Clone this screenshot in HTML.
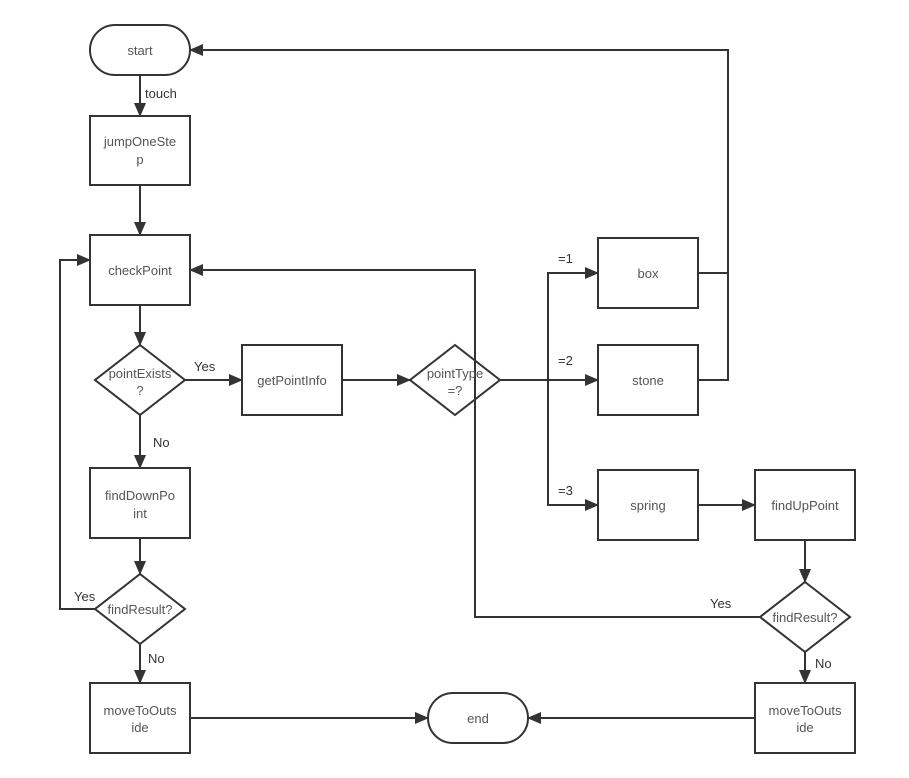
<!DOCTYPE html>
<html><head><style>body{margin:0;background:#fff}svg{display:block}</style></head><body>
<svg width="909" height="778" viewBox="0 0 909 778" xmlns="http://www.w3.org/2000/svg" font-family="Liberation Sans, sans-serif" font-size="13">
<defs><marker id="a" markerWidth="14" markerHeight="12" refX="13" refY="6" orient="auto" markerUnits="userSpaceOnUse"><path d="M0,0 L14,6 L0,12 Z" fill="#333"/></marker></defs>
<g fill="none" stroke="#333" stroke-width="2">
<rect x="90" y="25" width="100" height="50" rx="25"/>
<rect x="90" y="116" width="100" height="69"/>
<rect x="90" y="235" width="100" height="70"/>
<path d="M140,345 L185,380 L140,415 L95,380 Z"/>
<rect x="242" y="345" width="100" height="70"/>
<path d="M455,345 L500,380 L455,415 L410,380 Z"/>
<rect x="598" y="238" width="100" height="70"/>
<rect x="598" y="345" width="100" height="70"/>
<rect x="598" y="470" width="100" height="70"/>
<rect x="755" y="470" width="100" height="70"/>
<path d="M805,582 L850,617 L805,652 L760,617 Z"/>
<rect x="755" y="683" width="100" height="70"/>
<rect x="428" y="693" width="100" height="50" rx="25"/>
<rect x="90" y="468" width="100" height="70"/>
<path d="M140,574 L185,609 L140,644 L95,609 Z"/>
<rect x="90" y="683" width="100" height="70"/>
<path d="M140,75 V116" marker-end="url(#a)"/>
<path d="M140,185 V235" marker-end="url(#a)"/>
<path d="M140,305 V345" marker-end="url(#a)"/>
<path d="M185,380 H242" marker-end="url(#a)"/>
<path d="M342,380 H410" marker-end="url(#a)"/>
<path d="M500,380 H598" marker-end="url(#a)"/>
<path d="M548,380 V273 H598" marker-end="url(#a)"/>
<path d="M548,380 V505 H598" marker-end="url(#a)"/>
<path d="M698,273 H728 M698,380 H728 V50 H190" marker-end="url(#a)"/>
<path d="M698,505 H755" marker-end="url(#a)"/>
<path d="M805,540 V582" marker-end="url(#a)"/>
<path d="M760,617 H475 V270 H190" marker-end="url(#a)"/>
<path d="M805,652 V683" marker-end="url(#a)"/>
<path d="M755,718 H528" marker-end="url(#a)"/>
<path d="M190,718 H428" marker-end="url(#a)"/>
<path d="M140,415 V468" marker-end="url(#a)"/>
<path d="M140,538 V574" marker-end="url(#a)"/>
<path d="M95,609 H60 V260 H90" marker-end="url(#a)"/>
<path d="M140,644 V683" marker-end="url(#a)"/>
</g>
<g fill="#555" text-anchor="middle">
<text x="140" y="55">start</text>
<text x="140" y="146">jumpOneSte</text><text x="140" y="164">p</text>
<text x="140" y="275">checkPoint</text>
<text x="140" y="378">pointExists</text><text x="140" y="395">?</text>
<text x="292" y="385">getPointInfo</text>
<text x="455" y="378">pointType</text><text x="455" y="395">=?</text>
<text x="648" y="278">box</text>
<text x="648" y="385">stone</text>
<text x="648" y="510">spring</text>
<text x="805" y="510">findUpPoint</text>
<text x="805" y="622">findResult?</text>
<text x="805" y="715">moveToOuts</text><text x="805" y="732">ide</text>
<text x="478" y="723">end</text>
<text x="140" y="500">findDownPo</text><text x="140" y="518">int</text>
<text x="140" y="614">findResult?</text>
<text x="140" y="715">moveToOuts</text><text x="140" y="732">ide</text>
</g>
<g fill="#333" text-anchor="start">
<text x="145" y="98">touch</text>
<text x="194" y="371">Yes</text>
<text x="153" y="447">No</text>
<text x="74" y="601">Yes</text>
<text x="148" y="663">No</text>
<text x="558" y="263">=1</text>
<text x="558" y="365">=2</text>
<text x="558" y="495">=3</text>
<text x="710" y="608">Yes</text>
<text x="815" y="668">No</text>
</g>
</svg>
</body></html>
